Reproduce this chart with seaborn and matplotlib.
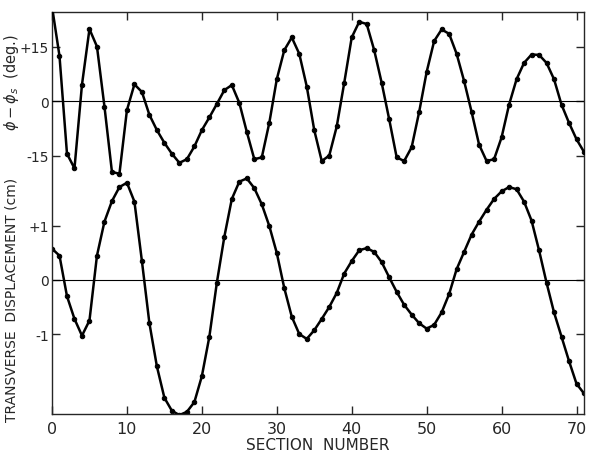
import matplotlib
matplotlib.use("Agg")
import matplotlib.pyplot as plt
import seaborn as sns

# section numbers (one dot per section)
secoes = list(range(72))

# phase error phi - phi_s (deg.)
fase = [26, 12.4, -14.5, -18.5, 4.5, 19.8, 15, -1.5, -19.5, -20,
        -2.5, 4.6, 2.5, -3.8, -8, -11.5, -14.5, -17, -16, -12.5,
        -8, -4.5, -0.8, 3, 4.4, -0.5, -8.5, -16, -15.5, -6,
        6, 14, 17.5, 13, 4, -8, -16.5, -15, -7, 5,
        17.5, 21.8, 21.2, 14, 5, -5, -15.5, -16.5, -12.7, -3,
        8, 16.5, 19.7, 18.5, 13, 5.5, -3, -12, -16.5, -16,
        -10, -1, 6, 10.5, 12.8, 12.7, 10.5, 6, -1, -6,
        -10.5, -14]

# transverse displacement (cm)
desloc = [0.58, 0.45, -0.3, -0.72, -1.03, -0.75, 0.45, 1.08, 1.46, 1.72,
          1.8, 1.45, 0.35, -0.8, -1.6, -2.18, -2.42, -2.5, -2.44, -2.26,
          -1.78, -1.05, -0.05, 0.8, 1.5, 1.82, 1.88, 1.7, 1.4, 1.0,
          0.5, -0.15, -0.68, -1.0, -1.09, -0.93, -0.72, -0.5, -0.24, 0.12,
          0.35, 0.55, 0.59, 0.52, 0.33, 0.05, -0.22, -0.46, -0.64, -0.8,
          -0.9, -0.83, -0.6, -0.26, 0.2, 0.52, 0.84, 1.08, 1.3, 1.5,
          1.64, 1.72, 1.68, 1.45, 1.1, 0.55, -0.05, -0.6, -1.05, -1.5,
          -1.92, -2.1]

xticks = [0, 10, 20, 30, 40, 50, 60, 70]
fase_ticks = [15, 0, -15]
fase_labels = ["+15", "0", "-15"]
desloc_ticks = [1, 0, -1]
desloc_labels = ["+1", "0", "-1"]

sns.set_style("ticks")
plt.rcParams["font.family"] = ["DejaVu Sans"]

fig = plt.figure(figsize=(5.89, 4.64), dpi=100)
pos = [52 / 589, 49 / 464, 532 / 589, 402 / 464]

# bottom curve lives on the framed axes, top curve on a transparent twin
ax_b = fig.add_axes(pos)
ax_t = fig.add_axes(pos, sharex=ax_b)
ax_t.patch.set_visible(False)
ax_t.set_frame_on(False)

ax_b.axhline(0, color="k", lw=0.8)
ax_t.axhline(0, color="k", lw=0.8)

sns.lineplot(x=secoes, y=desloc, ax=ax_b, color="k", lw=1.8,
             marker="o", markersize=3.2, markeredgecolor="k")
sns.lineplot(x=secoes, y=fase, ax=ax_t, color="k", lw=1.8,
             marker="o", markersize=3.2, markeredgecolor="k")

ax_b.set_xlim(0, 71)
ax_b.set_ylim(-2.48, 4.96)
ax_t.set_ylim(-86.1, 24.5)

ax_b.set_xticks(xticks)
ax_b.set_yticks(desloc_ticks)
ax_b.set_yticklabels(desloc_labels)
ax_t.set_yticks(fase_ticks)
ax_t.set_yticklabels(fase_labels)

for ax in (ax_b, ax_t):
    ax.tick_params(direction="in", length=6, width=1, top=True, right=True,
                   labelsize=10, pad=2)
    ax.set_xlabel("")
    ax.set_ylabel("")
ax_b.tick_params(axis="x", labelsize=11.5, pad=5)
ax_t.tick_params(axis="x", top=False, bottom=False, labelbottom=False)

for s in ax_b.spines.values():
    s.set_linewidth(1)

fig.text(318 / 589, 1 - 446 / 464, "SECTION  NUMBER", ha="center",
         va="center", fontsize=11)
fig.text(12 / 589, 1 - 83 / 464, r"$\phi - \phi_s$  (deg.)", rotation=90,
         ha="center", va="center", fontsize=10.5)
fig.text(12 / 589, 1 - 300 / 464, "TRANSVERSE  DISPLACEMENT (cm)",
         rotation=90, ha="center", va="center", fontsize=10)

fig.savefig("out.png", dpi=100)
